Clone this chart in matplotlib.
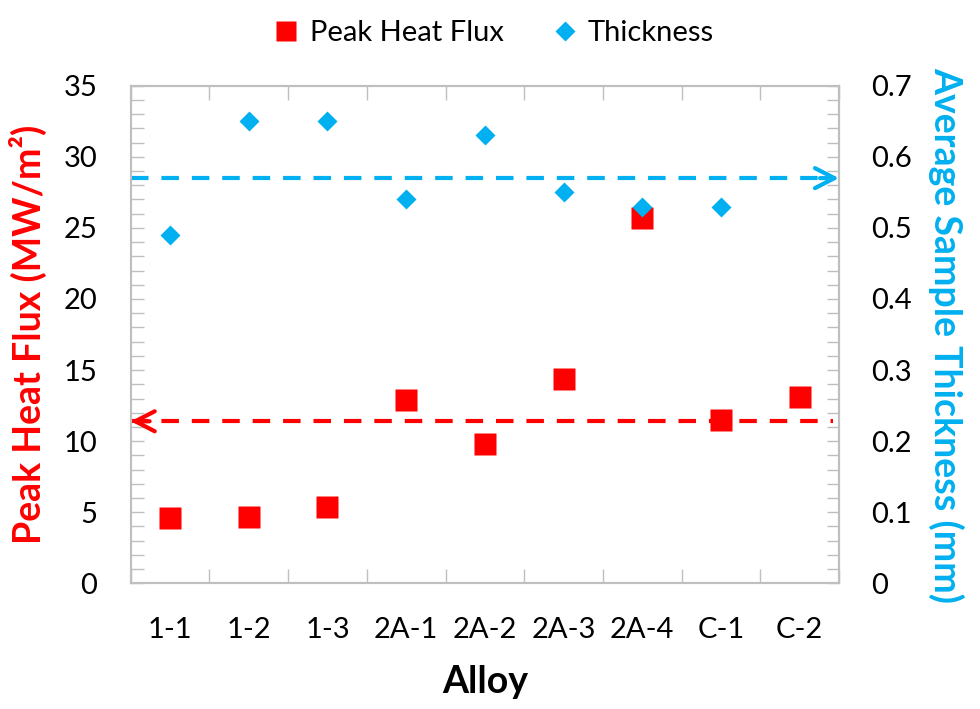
import matplotlib
matplotlib.use("Agg")
import matplotlib.pyplot as plt
from matplotlib.lines import Line2D
import numpy as np

plt.rcParams['font.family'] = ['Lato', 'DejaVu Sans']

# Data
alloys = ["1-1", "1-2", "1-3", "2A-1", "2A-2", "2A-3", "2A-4", "C-1", "C-2"]
peak_heat_flux = [4.6, 4.7, 5.4, 12.9, 9.8, 14.4, 25.7, 11.5, 13.1]       # MW/m^2
thickness = [0.49, 0.65, 0.65, 0.54, 0.63, 0.55, 0.53, 0.53, np.nan]     # mm
flux_average = 11.4
thickness_average = 0.57
flux_ticks = [0, 5, 10, 15, 20, 25, 30, 35]
thickness_ticks = [0, 0.1, 0.2, 0.3, 0.4, 0.5, 0.6, 0.7]
thickness_tick_labels = ["0", "0.1", "0.2", "0.3", "0.4", "0.5", "0.6", "0.7"]

RED = "#FF0000"
BLUE = "#00B0F0"
GRID = "#BFBFBF"

fig = plt.figure(figsize=(9.8, 7.09), dpi=100)
ax = fig.add_axes([0.1334, 0.1772, 0.7227, 0.7019])
ax2 = ax.twinx()

x = np.arange(len(alloys))

# Peak heat flux (left axis)
ax.plot(x, peak_heat_flux, linestyle="none", marker="s", ms=15.5,
        color=RED, mec="none", zorder=3)
# Thickness (right axis)
ax2.plot(x, thickness, linestyle="none", marker="D", ms=10.4,
         color=BLUE, mec="none", zorder=3)

# Average lines with open arrowheads pointing to their axes
arrow_style = "->,head_length=0.7,head_width=0.36"
ax.plot([-0.5, 8.43], [flux_average, flux_average], color=RED, lw=3,
        dashes=(4.2, 3.1), zorder=2)
ax.annotate("", xy=(-0.5, flux_average), xytext=(-0.26, flux_average),
            arrowprops=dict(arrowstyle=arrow_style, mutation_scale=20,
                            color=RED, lw=3, shrinkA=0, shrinkB=0), zorder=2)
ax2.plot([-0.5, 8.4], [thickness_average, thickness_average], color=BLUE, lw=3,
         dashes=(4.2, 3.1), zorder=2)
ax2.annotate("", xy=(8.5, thickness_average), xytext=(8.26, thickness_average),
             arrowprops=dict(arrowstyle=arrow_style, mutation_scale=20,
                             color=BLUE, lw=3, shrinkA=0, shrinkB=0), zorder=2)

# Axes limits and ticks
ax.set_xlim(-0.5, len(alloys) - 0.5)
ax.set_ylim(0, 35)
ax2.set_ylim(0, 0.7)

ax.set_xticks(np.arange(-0.5, len(alloys), 1.0))
ax.set_xticklabels([])
ax.set_xticks(x, alloys, minor=True)
ax.tick_params(axis="x", which="major", direction="in", length=10, color=GRID,
               top=True, bottom=True, width=1)
ax.tick_params(axis="x", which="minor", length=0, labelsize=21, pad=24)

ax.set_yticks(flux_ticks)
ax.set_yticks(np.arange(0, 36, 1), minor=True)
ax.tick_params(axis="y", which="both", direction="in", length=9, color=GRID,
               width=1, labelsize=21, pad=24)

ax2.set_yticks(thickness_ticks, thickness_tick_labels)
ax2.set_yticks(np.arange(0, 0.7001, 0.02), minor=True)
ax2.tick_params(axis="y", which="both", direction="in", length=9, color=GRID,
                width=1, labelsize=21, pad=23)

for a in (ax, ax2):
    for s in a.spines.values():
        s.set_color(GRID)
        s.set_linewidth(1.5)

ax.set_xlabel("Alloy", fontsize=27, fontweight="bold", labelpad=16)
ax.set_ylabel("Peak Heat Flux (MW/m²)", fontsize=27, fontweight="bold",
              color=RED, labelpad=12)
ax2.set_ylabel("Average Sample Thickness (mm)", fontsize=27, fontweight="bold",
               color=BLUE, rotation=270, labelpad=38)

handles = [
    Line2D([], [], linestyle="none", marker="s", ms=15, color=RED, mec="none"),
    Line2D([], [], linestyle="none", marker="D", ms=10.4, color=BLUE, mec="none"),
]
fig.legend(handles, ["Peak Heat Flux", "Thickness"], loc="center",
           bbox_to_anchor=(0.503, 0.953), ncol=2, frameon=False, fontsize=21,
           handletextpad=0.3, columnspacing=1.6, handlelength=1.0)

fig.savefig("out.png", dpi=100)
